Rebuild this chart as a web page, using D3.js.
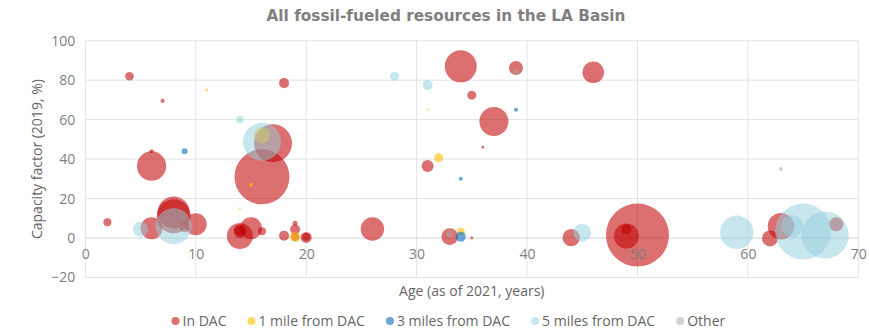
<!DOCTYPE html>
<html lang="en">
<head>
<meta charset="UTF-8">
<title>All fossil-fueled resources in the LA Basin</title>
<script src="https://cdnjs.cloudflare.com/ajax/libs/d3/7.8.0/d3.min.js"></script>
<style>
  body { margin: 0; background: #fff; }
  svg text { font-family: "Open Sans", sans-serif; }
</style>
</head>
<body>
<svg id="chart" width="869" height="331"></svg>
<script>
// data: age (years), capacity factor (%), capacity (MW, bubble size)
const seriesNames = ["In DAC", "1 mile from DAC", "3 miles from DAC", "5 miles from DAC", "Other"];

const dacAge = [2, 4, 7, 6, 6, 6, 8, 8, 10, 9, 17, 16, 18, 14, 14, 14, 15, 16, 18, 19, 19, 19, 20, 20, 26, 34, 35, 39, 37, 36, 31, 33, 35, 46, 44, 50, 49, 49, 62, 63, 68];
const dacCf  = [8, 82, 69.5, 44, 36.5, 5, 13, 11, 7, 5.5, 48, 31, 78.5, 1, 4, 3, 5, 3.5, 1.2, 7.5, 4.4, 0.5, 0.3, 0.5, 4.6, 87, 72.4, 86.2, 59, 46, 36.5, 0.7, 0, 84, 0.2, 1.5, 1, 4.4, -0.2, 6, 7];
const dacMw  = [31, 36, 8, 8, 420, 236, 500, 564, 236, 49, 705, 1477, 49, 330, 70, 70, 236, 31, 49, 12, 49, 31, 60, 31, 267, 500, 40, 96, 411, 4, 70, 135, 4, 228, 148, 1940, 305, 49, 125, 345, 96];

const mile1Age = [11, 16, 15, 14, 19, 31, 32, 34];
const mile1Cf  = [75, 52, 27, 15, 0.5, 65, 40.7, 3.2];
const mile1Mw  = [4, 125, 8, 2, 49, 2, 40, 31];

const mile3Age = [9, 39, 34, 34];
const mile3Cf  = [44, 65, 30, 0.7];
const mile3Mw  = [18, 8, 8, 49];

const mile5Age = [5, 8, 14, 16, 28, 31, 45, 59, 64, 65, 67];
const mile5Cf  = [4.5, 6, 60, 48.8, 82, 77.5, 2.7, 2.9, 6, 3.3, 1.5];
const mile5Mw  = [110, 633, 27, 705, 40, 49, 158, 545, 236, 1531, 1080];

const otherAge = [39, 33, 63];
const otherCf  = [84, 2, 35];
const otherMw  = [18, 31, 8];

const xTicks = [0, 10, 20, 30, 40, 50, 60, 70];
const yTicks = [-20, 0, 20, 40, 60, 80, 100];

const colors = ["#C00000", "#FFC000", "#0070C0", "#92CDDC", "#A5A5A5"];
const opac = [0.56, 0.6, 0.6, 0.5, 0.5];

const zip = (a, c, m) => a.map((v, i) => ({ age: v, cf: c[i], mw: m[i] }));
const series = [
  zip(dacAge, dacCf, dacMw),
  zip(mile1Age, mile1Cf, mile1Mw),
  zip(mile3Age, mile3Cf, mile3Mw),
  zip(mile5Age, mile5Cf, mile5Mw),
  zip(otherAge, otherCf, otherMw)
];

const svg = d3.select("#chart");
const plotL = 85.3, plotR = 858.3, plotT = 40.7, plotB = 277.5;

const x = d3.scaleLinear().domain([0, 70]).range([plotL, plotR]);
const y = d3.scaleLinear().domain([-20, 100]).range([plotB, plotT]);
const r = d3.scaleSqrt().domain([0, 2000]).range([0, 32]);

// grid
svg.append("g").selectAll("line").data(xTicks).join("line")
  .attr("x1", d => x(d)).attr("x2", d => x(d))
  .attr("y1", plotT).attr("y2", plotB)
  .attr("stroke", "#e3e3e3").attr("stroke-width", 1);
svg.append("g").selectAll("line").data(yTicks).join("line")
  .attr("x1", plotL).attr("x2", plotR)
  .attr("y1", d => y(d)).attr("y2", d => y(d))
  .attr("stroke", d => d === 0 ? "#d6d6d6" : "#e3e3e3").attr("stroke-width", 1);

// bubbles
series.forEach((s, i) => {
  svg.append("g").selectAll("circle").data(s).join("circle")
    .attr("cx", d => x(d.age))
    .attr("cy", d => y(d.cf))
    .attr("r", d => r(d.mw))
    .attr("fill", colors[i])
    .attr("fill-opacity", opac[i]);
});

// y tick labels
const yAxis = d3.axisLeft(y).tickValues(yTicks).tickSize(0).tickPadding(10);
const gy = svg.append("g").attr("transform", `translate(${plotL},0)`).call(yAxis);
gy.select(".domain").remove();
gy.selectAll("text").attr("font-size", 14).attr("fill", "#7f7f7f")
  .style("font-family", "Open Sans, sans-serif");

// x tick labels, drawn at the zero line
const xAxis = d3.axisBottom(x).tickValues(xTicks).tickSize(0).tickPadding(11);
const gx = svg.append("g").attr("transform", `translate(0,${y(0)})`).call(xAxis);
gx.select(".domain").remove();
gx.selectAll("text").attr("font-size", 14).attr("fill", "#7f7f7f")
  .style("font-family", "Open Sans, sans-serif");

// titles
svg.append("text")
  .attr("x", 446).attr("y", 21)
  .attr("text-anchor", "middle")
  .style("font-family", "DejaVu Sans, sans-serif")
  .attr("font-weight", "bold").attr("font-size", 15.3)
  .attr("fill", "#7f7f7f")
  .text("All fossil-fueled resources in the LA Basin");

svg.append("text")
  .attr("transform", `translate(42,${(plotT + plotB) / 2}) rotate(-90)`)
  .attr("text-anchor", "middle")
  .attr("font-size", 14).attr("fill", "#666")
  .text("Capacity factor (2019, %)");

svg.append("text")
  .attr("x", (plotL + plotR) / 2).attr("y", 296)
  .attr("text-anchor", "middle")
  .attr("font-size", 14).attr("fill", "#666")
  .text("Age (as of 2021, years)");

// legend
let lx = 175.5;
const ly = 321;
seriesNames.forEach((name, i) => {
  svg.append("circle")
    .attr("cx", lx).attr("cy", ly).attr("r", 4)
    .attr("fill", colors[i]).attr("fill-opacity", opac[i]);
  const t = svg.append("text")
    .attr("x", lx + 7).attr("y", ly + 5)
    .attr("font-size", 14).attr("fill", "#666")
    .text(name);
  lx += 7 + t.node().getComputedTextLength() + 25;
});
</script>
</body>
</html>
